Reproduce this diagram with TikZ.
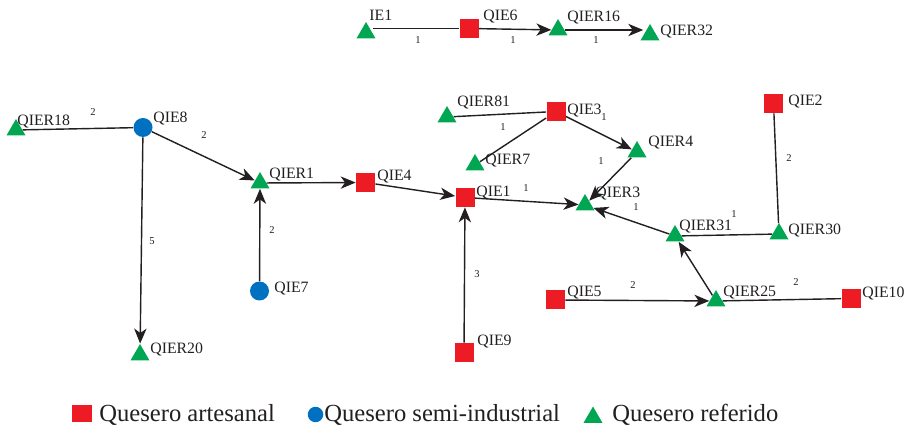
\documentclass[tikz,border=0pt]{standalone}
\usepackage{fontspec}
\setmainfont{Liberation Serif}
\usetikzlibrary{shapes.geometric,arrows.meta}

\definecolor{qred}{RGB}{237,28,36}
\definecolor{qblue}{RGB}{0,112,192}
\definecolor{qgreen}{RGB}{0,166,81}
\definecolor{qink}{RGB}{35,31,32}

\tikzset{
  quesart/.style={rectangle, fill=qred, minimum size=0.38cm, inner sep=0},
  quessemi/.style={circle, fill=qblue, minimum size=0.38cm, inner sep=0},
  quesref/.style={regular polygon, regular polygon sides=3, fill=qgreen, minimum size=0.44cm, inner sep=0},
  nlab/.style={anchor=base west, inner sep=0, text=qink, font=\fontsize{9}{9}\selectfont},
  wlab/.style={inner sep=0, text=qink, font=\fontsize{6}{6}\selectfont},
  legtxt/.style={anchor=base west, inner sep=0, text=qink, font=\fontsize{14}{14}\selectfont},
  conn/.style={line width=0.8pt, draw=qink},
  arr/.style={conn, -{Stealth[length=8.5pt,width=7pt,inset=2.5pt]}}
}

\begin{document}
\begin{tikzpicture}[x=0.02cm, y=-0.02cm]
\useasboundingbox (0,0) rectangle (908,431);

% top chain
\node[quesref] (ie1) at (366,33) {};
\node[quesart] (qie6) at (469,28.5) {};
\node[quesref] (qier16) at (558,30) {};
\node[quesref] (qier32) at (650,35) {};

% left part
\node[quesref] (qier18) at (16,130) {};
\node[quessemi] (qie8) at (143,127.5) {};
\node[quesref] (qier1) at (260,183) {};
\node[quesref] (qier20) at (140,355) {};
\node[quessemi] (qie7) at (259.5,291) {};
\node[quesart] (qie4) at (365.5,182.5) {};
\node[quesart] (qie1) at (465,197.5) {};
\node[quesart] (qie9) at (464,352.5) {};

% right part
\node[quesref] (qier81) at (447,117) {};
\node[quesart] (qie3) at (556,111.5) {};
\node[quesref] (qier7) at (475,165) {};
\node[quesref] (qier4) at (637,152) {};
\node[quesref] (qier3) at (585,205) {};
\node[quesref] (qier31) at (675,236) {};
\node[quesref] (qier30) at (779,234) {};
\node[quesart] (qie2) at (773.5,103.5) {};
\node[quesref] (qier25) at (716,301) {};
\node[quesart] (qie5) at (555.5,300) {};
\node[quesart] (qie10) at (851,298.5) {};

% names
\node[nlab] (ie1-t) at (369,21) {IE1};
\node[nlab] (qie6-t) at (483,21) {QIE6};
\node[nlab] (qier16-t) at (567,21.5) {QIER16};
\node[nlab] (qier32-t) at (660,36) {QIER32};
\node[nlab] (qier18-t) at (17,126) {QIER18};
\node[nlab] (qie8-t) at (153,123) {QIE8};
\node[nlab] (qier1-t) at (269,179) {QIER1};
\node[nlab] (qier20-t) at (150,354) {QIER20};
\node[nlab] (qie7-t) at (274,293) {QIE7};
\node[nlab] (qie4-t) at (377,181) {QIE4};
\node[nlab] (qie1-t) at (476,197) {QIE1};
\node[nlab] (qie9-t) at (477,346) {QIE9};
\node[nlab] (qier81-t) at (457,107) {QIER81};
\node[nlab] (qie3-t) at (567,115) {QIE3};
\node[nlab] (qier7-t) at (485,165) {QIER7};
\node[nlab] (qier4-t) at (648,147) {QIER4};
\node[nlab] (qier3-t) at (595,198) {QIER3};
\node[nlab] (qier31-t) at (679,231) {QIER31};
\node[nlab] (qier30-t) at (788,235) {QIER30};
\node[nlab] (qie2-t) at (788,106) {QIE2};
\node[nlab] (qier25-t) at (723,297) {QIER25};
\node[nlab] (qie5-t) at (567,297) {QIE5};
\node[nlab] (qie10-t) at (862,298) {QIE10};

% links
\draw[conn] (ie1.east |- qie6) -- (qie6) node[wlab] at (418,40) {1};
\draw[arr] (qie6) -- (qier16) node[wlab] at (513,40) {1};
\draw[arr] (qier16) -- (qier16 -| qier32.west) node[wlab] at (596,40) {1};
\draw[conn] (qie8) -- (qier18) node[wlab] at (93,112) {2};
\draw[arr] (qie8) -- (qier1) node[wlab] at (204,135) {2};
\draw[arr] (qie8) -- (qier20) node[wlab] at (152,241) {5};
\draw[arr] (qie7) -- (qier1) node[wlab] at (272,230) {2};
\draw[arr] (qier1) -- (qie4);
\draw[arr] (qie4) -- (qie1);
\draw[arr] (qie9) -- (qie1) node[wlab] at (477,274) {3};
\draw[arr] (qie1) -- (qier3) node[wlab] at (526,188) {1};
\draw[conn] (qie3) -- (qier81);
\draw[conn] (qie3) -- (qier7) node[wlab] at (503,127) {1};
\draw[arr] (qie3) -- (qier4) node[wlab] at (604,117) {1};
\draw[arr] (qier4) -- (qier3) node[wlab] at (601,161) {1};
\draw[arr] (qier31) -- (qier3) node[wlab] at (636,207) {1};
\draw[conn] (qier30) -- (qier31) node[wlab] at (734,214) {1};
\draw[conn] (qie2) -- (qier30) node[wlab] at (789,158) {2};
\draw[arr] (qier25) -- (qier31);
\draw[arr] (qie5) -- (qier25) node[wlab] at (633,285) {2};
\draw[conn] (qie10) -- (qier25) node[wlab] at (796,282) {2};

% legend
\node[quesart, minimum width=0.4cm, minimum height=0.34cm] (leg-art) at (82,413.5) {};
\node[legtxt] (leg-art-t) at (99,421.5) {Quesero artesanal};
\node[quessemi, minimum size=0.31cm] (leg-semi) at (315.5,414.5) {};
\node[legtxt] (leg-semi-t) at (324,421.5) {Quesero semi-industrial};
\node[quesref] (leg-ref) at (593,417.5) {};
\node[legtxt] (leg-ref-t) at (612,421.5) {Quesero referido};

\end{tikzpicture}
\end{document}
